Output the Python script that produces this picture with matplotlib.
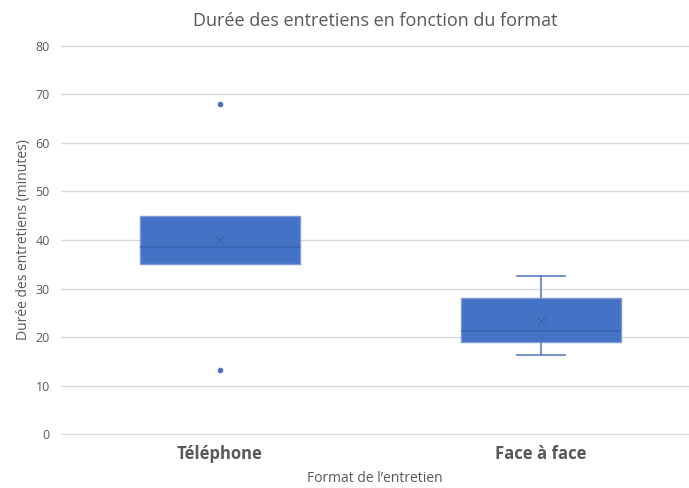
import matplotlib.pyplot as plt

plt.rcParams['font.family'] = ['Open Sans', 'DejaVu Sans']

categories = ['Téléphone', 'Face à face']
q1 = [35, 19]
med = [38.5, 21.2]
q3 = [45, 28]
whislo = [35, 16.3]
whishi = [45, 32.5]
means = [40, 23.3]
fliers = [[68, 13.3], []]
yticks = [0, 10, 20, 30, 40, 50, 60, 70, 80]

stats = []
for i in range(len(categories)):
    stats.append(dict(label=categories[i], q1=q1[i], med=med[i], q3=q3[i],
                      whislo=whislo[i], whishi=whishi[i], mean=means[i],
                      fliers=fliers[i]))

fig = plt.figure(figsize=(6.89, 4.88), dpi=100)
ax = fig.add_axes([61/689, 53/488, 628/689, 390/488])

blue = '#4472C4'
ax.bxp(stats, positions=[1, 2], widths=0.5, patch_artist=True,
       showmeans=True, showcaps=True,
       boxprops=dict(facecolor=blue, edgecolor='#7d9ad3', linewidth=1),
       medianprops=dict(color='#3a63ad', linewidth=1.2),
       whiskerprops=dict(color='#5b7fc4', linewidth=1.2),
       capprops=dict(color='#5b7fc4', linewidth=1.2),
       capwidths=[0, 0.15],
       meanprops=dict(marker='x', markeredgecolor='#3a63ad', markersize=6,
                      markeredgewidth=0.9),
       flierprops=dict(marker='o', markerfacecolor=blue, markeredgecolor=blue,
                       markersize=3))

ax.set_xlim(0.505, 2.461)
ax.set_ylim(-0.2, 80.2)
ax.set_yticks(yticks)
ax.grid(axis='y', color='#d9d9d9', linewidth=1)
ax.set_axisbelow(True)
for s in ax.spines.values():
    s.set_visible(False)
ax.tick_params(axis='both', length=0, colors='#595959')
ax.tick_params(axis='y', labelsize=9, pad=8)
ax.tick_params(axis='x', labelsize=12, pad=7)
for lab in ax.get_xticklabels():
    lab.set_fontweight('bold')

ax.set_title('Durée des entretiens en fonction du format', fontsize=13,
             color='#595959', pad=14)
ax.set_xlabel('Format de l\u2019entretien', fontsize=10, color='#595959', labelpad=6)
ax.set_ylabel('Durée des entretiens (minutes)', fontsize=10, color='#595959', labelpad=3)

fig.savefig('out.png', dpi=100)
